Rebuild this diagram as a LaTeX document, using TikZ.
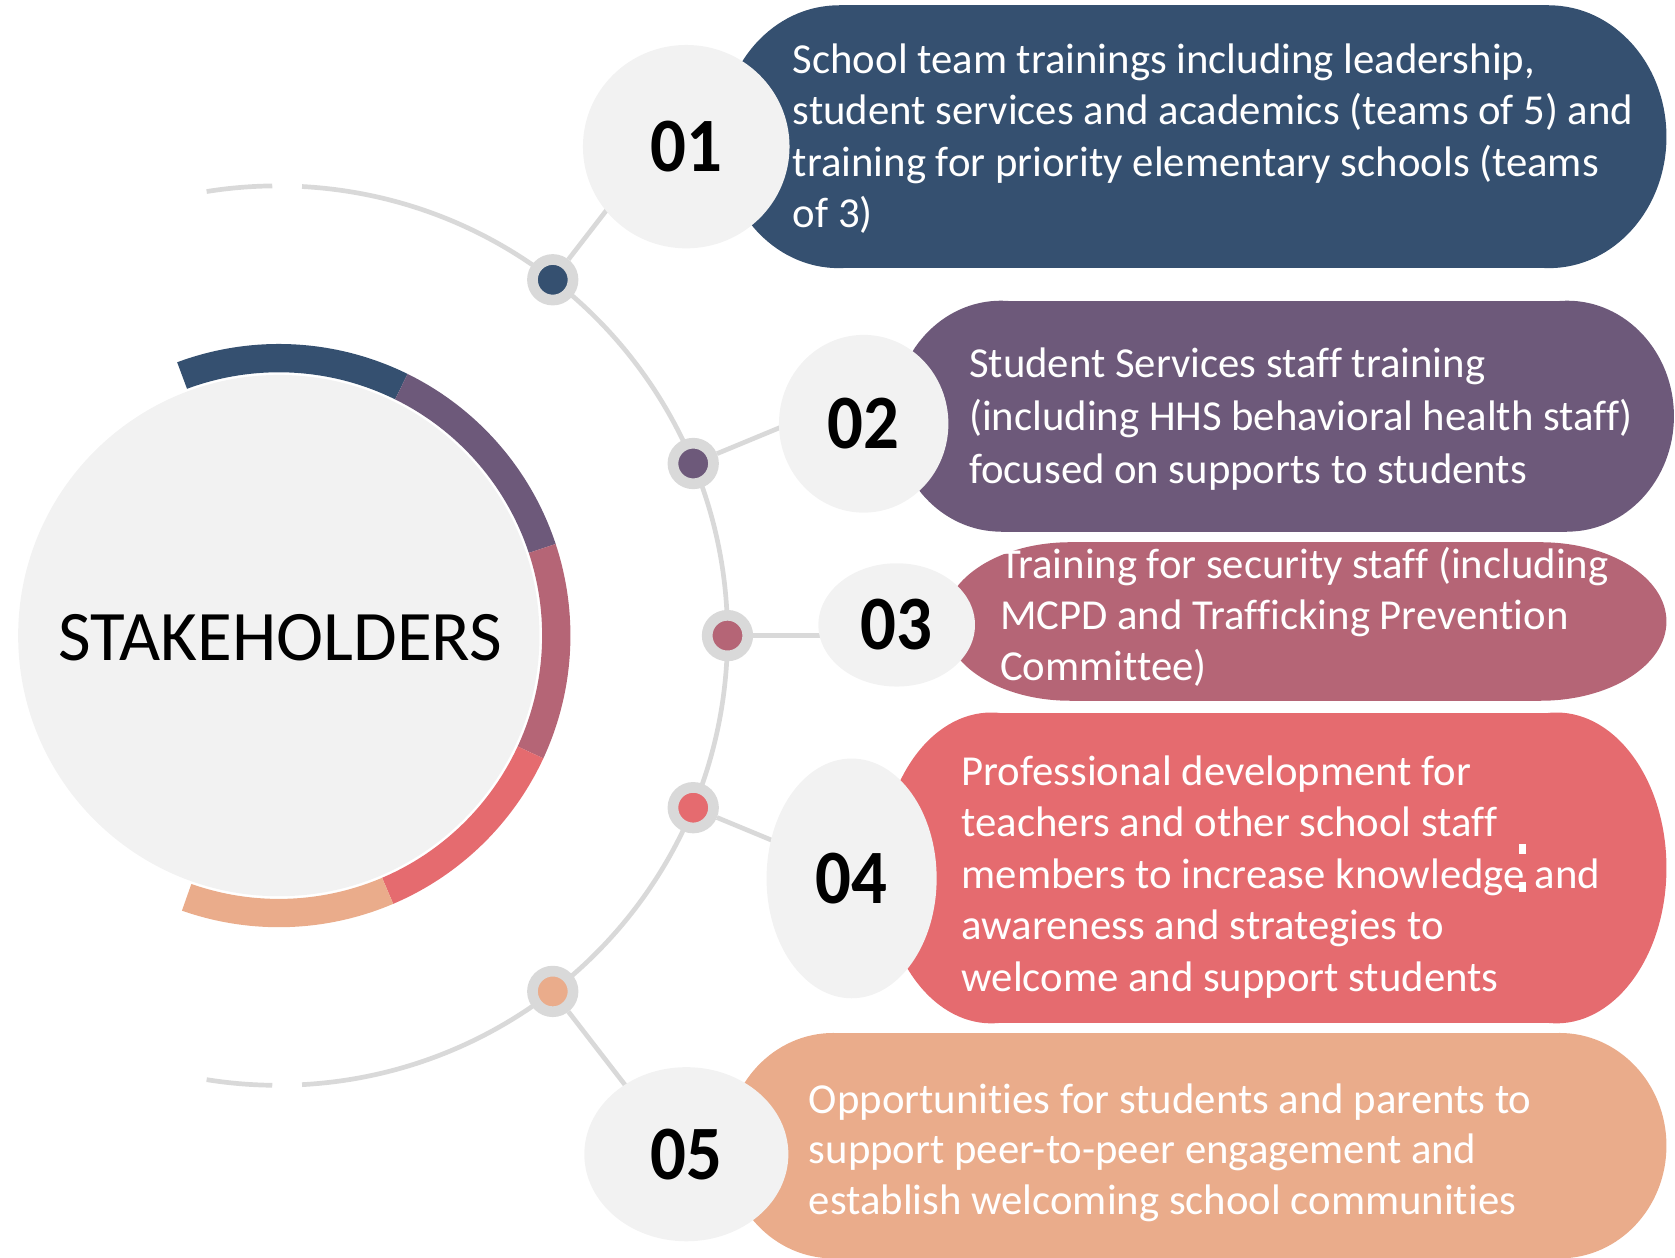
\documentclass[tikz,border=0pt]{standalone}
\usepackage{fontspec}
\setmainfont{Carlito}[Ligatures=CommonOff]
\usetikzlibrary{shapes.geometric}
\pgfdeclarelayer{back}
\pgfsetlayers{back,main}
\definecolor{cA}{HTML}{355070}
\definecolor{cB}{HTML}{6D597A}
\definecolor{cC}{HTML}{B56576}
\definecolor{cD}{HTML}{E56B6F}
\definecolor{cE}{HTML}{EAAC8B}
\definecolor{lgray}{HTML}{F2F2F2}
\definecolor{lline}{HTML}{D9D9D9}
% x1 x2 ybottom ytop rx colour
\newcommand{\pillshape}[6]{%
  \fill[#6] ({#1+#5},#3) rectangle ({#2-#5},#4);
  \fill[#6] ({#1+#5},{(#3+#4)/2}) ellipse[x radius=#5, y radius={(#4-#3)/2}];
  \fill[#6] ({#2-#5},{(#3+#4)/2}) ellipse[x radius=#5, y radius={(#4-#3)/2}];
}
\newcommand{\ringseg}[3]{%
  \fill[#3] (#1:273) arc[start angle=#1, end angle=#2, radius=273]
    -- (#2:246.5) arc[start angle=#2, end angle=#1, radius=246.5] -- cycle;
}
\newcommand{\numtxt}[1]{\scalebox{0.92}[1]{#1}}
\begin{document}
\begin{tikzpicture}[x=1pt,y=1pt,
  numnode/.style={ellipse, fill=lgray, inner sep=0pt, font=\fontsize{72}{72}\selectfont\bfseries},
  bodytext/.style={anchor=west, align=left, inner sep=0pt, text=white},
  arcline/.style={draw=lline, line width=4.4pt},
  dotnode/.style={circle, draw=lline, line width=10pt, minimum size=38pt, inner sep=0pt, fill=#1},
  ]
\useasboundingbox (0,0) rectangle (1568,1177);

\coordinate (C) at (261,582);
\node[circle, fill=lgray, minimum size=488pt, inner sep=0pt] (hub) at (C) {};

\begin{scope}[shift={(C)}]
  \ringseg{110.4}{63.8}{cA}
  \ringseg{63.8}{18.3}{cB}
  \ringseg{18.3}{-24.9}{cC}
  \ringseg{-24.9}{-66.9}{cD}
  \ringseg{-66.9}{-109.4}{cE}
\end{scope}

\begin{scope}[shift={(260,582)}]
  \begin{pgfonlayer}{back}
    \draw[arcline] (99.1:421) arc[start angle=99.1, end angle=90.7, radius=421];
    \draw[arcline] (86.9:421) arc[start angle=86.9, end angle=-86.9, radius=421];
    \draw[arcline] (-90.7:421) arc[start angle=-90.7, end angle=-99.1, radius=421];
  \end{pgfonlayer}
  \node[dotnode=cA] (d1) at (52.3:421) {};
  \node[dotnode=cB] (d2) at (22.5:421) {};
  \node[dotnode=cC] (d3) at (0:421) {};
  \node[dotnode=cD] (d4) at (-22.5:421) {};
  \node[dotnode=cE] (d5) at (-52.3:421) {};
  \coordinate (e1) at (52.3:560);
  \coordinate (e2) at (22.5:560);
  \coordinate (e3) at (0:560);
  \coordinate (e4) at (-22.5:560);
  \coordinate (e5) at (-52.3:560);
\end{scope}

\begin{pgfonlayer}{back}
  \draw[arcline] (d1) -- (e1);
  \draw[arcline] (d2) -- (e2);
  \draw[arcline] (d3) -- (e3);
  \draw[arcline] (d4) -- (e4);
  \draw[arcline] (d5) -- (e5);
\end{pgfonlayer}

\node[font=\fontsize{66.5}{78}\selectfont, inner sep=0pt] (title) at (262.4,580.25) {STAKEHOLDERS};

\pillshape{675}{1560}{926}{1172}{110}{cA}
\pillshape{837}{1567}{679.3}{895.5}{100}{cB}
\pillshape{884}{1560}{521}{669.4}{118}{cC}
\pillshape{825}{1560}{219}{510}{103}{cD}
\pillshape{680}{1560}{-1}{210}{100}{cE}

\node[numnode, minimum width=193.4pt, minimum height=190.4pt] (n1) at (642.4,1039.7) {\numtxt{01}};
\node[numnode, minimum width=158.6pt, minimum height=166.4pt] (n2) at (808.5,780.3) {\numtxt{02}};
\node[numnode, minimum width=146.6pt, minimum height=115.4pt] (n3) at (839.4,592) {\numtxt{03}};
\node[numnode, minimum width=159.2pt, minimum height=224.4pt] (n4) at (797.2,354.7) {\numtxt{04}};
\node[numnode, minimum width=191pt, minimum height=163pt] (n5) at (642.5,96.5) {\numtxt{05}};

\node[bodytext, font=\fontsize{40}{48}\selectfont] (t1) at (742,1045.6)
  {\strut School team trainings including leadership,\\
   student services and academics (teams of 5) and\\
   training for priority elementary schools (teams\\
   of 3)\strut};
\node[bodytext, font=\fontsize{40}{50}\selectfont] (t2) at (907,784)
  {\strut Student Services staff training\\
   (including HHS behavioral health staff)\\
   focused on supports to students\strut};
\node[bodytext, font=\fontsize{40}{47.5}\selectfont] (t3) at (936,597)
  {\strut Training for security staff (including\\
   MCPD and Trafficking Prevention\\
   Committee)\strut};
\node[bodytext, font=\fontsize{40}{48.25}\selectfont] (t4) at (900,355.15)
  {\strut Professional development for\\
   teachers and other school staff\\
   members to increase knowledge and\\
   awareness and strategies to\\
   welcome and support students\strut};
\node[bodytext, font=\fontsize{40}{47.5}\selectfont] (t5) at (757,97)
  {\strut Opportunities for students and parents to\\
   support peer-to-peer engagement and\\
   establish welcoming school communities\strut};

\fill[white] (1422,377.5) rectangle (1428.5,387);
\fill[white] (1422,342) rectangle (1428.5,351.4);
\end{tikzpicture}
\end{document}
